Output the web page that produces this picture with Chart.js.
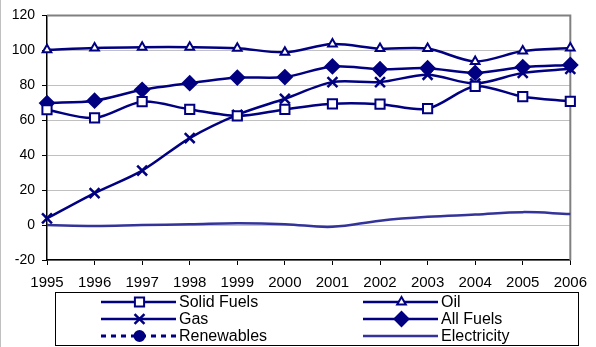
<!DOCTYPE html>
<html>
<head>
<meta charset="utf-8">
<script src="https://cdn.jsdelivr.net/npm/chart.js@4/dist/chart.umd.min.js"></script>
<style>
  html, body { margin: 0; padding: 0; background: #fff; }
  #wrap { position: relative; width: 596px; height: 347px; border-left: 1px solid #c0c0c0; box-sizing: border-box; }
</style>
</head>
<body>
<div id="wrap"><canvas id="chart" width="595" height="347"></canvas></div>
<script>
const years = ['1995', '1996', '1997', '1998', '1999', '2000', '2001', '2002', '2003', '2004', '2005', '2006'];
const solidFuels = [66, 61.3, 70.6, 66.2, 62.5, 66.2, 69.4, 69.2, 66.6, 79.4, 73.5, 70.8];
const oil = [100.3, 101.4, 101.8, 101.8, 101.2, 98.9, 103.6, 101, 101, 93.6, 99.6, 101.4];
const gas = [3.8, 18.3, 31.2, 49.8, 63.1, 72.3, 81.8, 81.8, 86, 81, 87.1, 89.4];
const allFuels = [69.8, 71.2, 77.4, 81.2, 84.4, 84.7, 90.8, 89.2, 89.8, 87.1, 90.4, 91.6];
const renewables = [null, null, null, null, null, null, null, null, null, null, null, null];
const electricity = [0, -0.5, 0, 0.4, 1, 0.5, -1, 2.5, 4.7, 6, 7.4, 6.3];
const yTicks = { min: -20, max: 120, step: 20 };

const navy = '#000080';
const elecColor = '#333399';
const fontFamily = '"Liberation Sans", Arial, sans-serif';

// legend drawn by hand: two columns, boxed, like the original
const boxLegend = {
  id: 'boxLegend',
  afterDraw(chart) {
    const ctx = chart.ctx;
    ctx.save();
    ctx.strokeStyle = '#000';
    ctx.lineWidth = 1;
    ctx.strokeRect(54.5, 292.5, 523, 53);
    const cols = [{ x1: 100, x2: 175, tx: 178 }, { x1: 362, x2: 437, tx: 440 }];
    const rows = [302, 319, 336];
    chart.data.datasets.forEach((ds, i) => {
      const c = cols[i % 2], y = rows[Math.floor(i / 2)];
      ctx.strokeStyle = ds.borderColor;
      ctx.lineWidth = ds.borderDash ? 3 : ds.borderWidth;
      ctx.setLineDash(ds.borderDash || []);
      ctx.beginPath();
      ctx.moveTo(c.x1, y);
      ctx.lineTo(c.x2, y);
      ctx.stroke();
      ctx.setLineDash([]);
      if (ds.pointStyle !== false && ds.pointRadius > 0) {
        ctx.fillStyle = ds.pointBackgroundColor;
        ctx.strokeStyle = ds.pointBorderColor;
        ctx.lineWidth = ds.pointBorderWidth;
        Chart.helpers.drawPoint(ctx, {
          pointStyle: ds.pointStyle, rotation: 0,
          radius: ds.pointRadius, borderWidth: ds.pointBorderWidth
        }, (c.x1 + c.x2) / 2 + 1, y);
      }
      ctx.fillStyle = '#000';
      ctx.font = '16px ' + fontFamily;
      ctx.textBaseline = 'middle';
      ctx.fillText(ds.label, c.tx, y + 1);
    });
    ctx.restore();
  }
};

// grey frame on top and right of the plot area
const plotFrame = {
  id: 'plotFrame',
  beforeDatasetsDraw(chart) {
    const a = chart.chartArea, ctx = chart.ctx;
    ctx.save();
    ctx.strokeStyle = '#808080';
    ctx.lineWidth = 2;
    ctx.beginPath();
    ctx.moveTo(a.left, a.top);
    ctx.lineTo(a.right, a.top);
    ctx.lineTo(a.right, a.bottom);
    ctx.stroke();
    ctx.restore();
  }
};

function series(label, data, style, extra) {
  return Object.assign({
    label: label,
    data: data,
    borderColor: navy,
    backgroundColor: navy,
    borderWidth: 2.5,
    tension: 0.3,
    pointStyle: style,
    pointBorderColor: navy,
    pointBackgroundColor: '#fff',
    pointBorderWidth: 2,
    pointRadius: 6
  }, extra || {});
}

new Chart(document.getElementById('chart'), {
  type: 'line',
  data: {
    labels: years,
    datasets: [
      series('Solid Fuels', solidFuels, 'rect', { pointRadius: 6.5 }),
      series('Oil', oil, 'triangle', { pointRadius: 5 }),
      series('Gas', gas, 'crossRot', { pointRadius: 7, pointBorderWidth: 2.5 }),
      series('All Fuels', allFuels, 'rectRot', { pointRadius: 7, pointBackgroundColor: navy }),
      series('Renewables', renewables, 'circle', { borderDash: [5, 5], pointRadius: 5, pointBackgroundColor: navy }),
      series('Electricity', electricity, false, { borderColor: elecColor, pointRadius: 0, borderWidth: 2.5, tension: 0.4 })
    ]
  },
  options: {
    responsive: false,
    animation: false,
    layout: { padding: { left: 0, right: 23, top: 15, bottom: 57 } },
    plugins: { legend: { display: false }, tooltip: { enabled: false } },
    scales: {
      x: {
        type: 'category',
        offset: false,
        afterFit(s) { s.height = 30; },
        grid: { drawOnChartArea: false, drawTicks: true, tickLength: 5, tickColor: '#000' },
        border: { color: '#000', width: 1.5 },
        ticks: { color: '#000', padding: 9, maxRotation: 0, autoSkip: false,
          font: { family: fontFamily, size: 15 } }
      },
      y: {
        min: yTicks.min,
        max: yTicks.max,
        afterFit(s) { s.width = 46; },
        grid: { color: '#c0c0c0', tickLength: 5, tickColor: '#000' },
        border: { color: '#000', width: 1.5 },
        ticks: { stepSize: yTicks.step, color: '#000', padding: 7,
          font: { family: fontFamily, size: 14 } }
      }
    }
  },
  plugins: [plotFrame, boxLegend]
});
</script>
</body>
</html>
